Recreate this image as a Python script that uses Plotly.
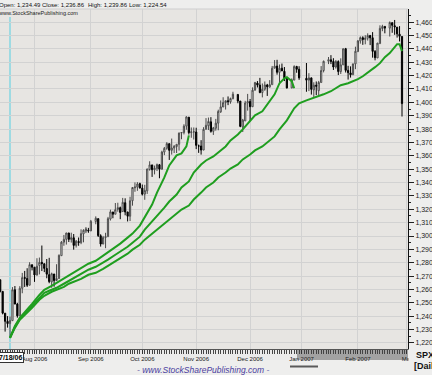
import plotly.graph_objects as go
import pandas as pd

# ---------------- data ----------------
dates = (
    ["2006-07-%02d" % d for d in [12, 13, 14, 17, 18, 19, 20, 21, 24, 25, 26, 27, 28, 31]]
    + ["2006-08-%02d" % d for d in [1, 2, 3, 4, 7, 8, 9, 10, 11, 14, 15, 16, 17, 18, 21, 22, 23, 24, 25, 28, 29, 30, 31]]
    + ["2006-09-%02d" % d for d in [1, 5, 6, 7, 8, 11, 12, 13, 14, 15, 18, 19, 20, 21, 22, 25, 26, 27, 28, 29]]
    + ["2006-10-%02d" % d for d in [2, 3, 4, 5, 6, 9, 10, 11, 12, 13, 16, 17, 18, 19, 20, 23, 24, 25, 26, 27, 30, 31]]
    + ["2006-11-%02d" % d for d in [1, 2, 3, 6, 7, 8, 9, 10, 13, 14, 15, 16, 17, 20, 21, 22, 24, 27, 28, 29, 30]]
    + ["2006-12-%02d" % d for d in [1, 4, 5, 6, 7, 8, 11, 12, 13, 14, 15, 18, 19, 20, 21, 22, 26, 27, 28, 29]]
    + ["2007-01-%02d" % d for d in [3, 4, 5, 8, 9, 10, 11, 12, 16, 17, 18, 19, 22, 23, 24, 25, 26, 29, 30, 31]]
    + ["2007-02-%02d" % d for d in [1, 2, 5, 6, 7, 8, 9, 12, 13, 14, 15, 16, 20, 21, 22, 23, 26, 27]]
)

opens = [
    1267.3, 1258.6, 1242.3, 1236.2, 1234.49, 1236.7, 1259.8, 1249.1, 1240.3, 1260.9, 1268.9, 1268.2, 1263.2, 1278.5,
    1276.7, 1270.7, 1278.0, 1280.3, 1279.3, 1275.7, 1271.1, 1265.7, 1271.6, 1266.7, 1268.2, 1285.3, 1295.4, 1297.5, 1302.3, 1297.5, 1298.7, 1293.0, 1295.9, 1295.1, 1301.6, 1303.7, 1304.3,
    1303.8, 1310.9, 1313.0, 1300.2, 1294.0, 1298.9, 1299.5, 1312.7, 1318.0, 1316.3, 1319.9, 1321.2, 1318.3, 1324.9, 1318.0, 1314.8, 1326.4, 1336.1, 1336.6, 1339.2,
    1335.8, 1331.3, 1333.8, 1349.8, 1353.2, 1349.6, 1350.6, 1353.3, 1349.9, 1362.8, 1365.6, 1369.1, 1364.1, 1365.9, 1366.9, 1368.6, 1377.0, 1377.4, 1382.2, 1388.9, 1377.3, 1377.9,
    1377.8, 1367.4, 1367.3, 1364.3, 1379.8, 1382.5, 1385.4, 1378.3, 1380.6, 1384.4, 1392.9, 1396.5, 1399.8, 1401.2, 1400.4, 1402.7, 1405.9, 1400.95, 1381.6, 1386.1, 1399.5,
    1400.6, 1396.7, 1409.1, 1414.4, 1412.9, 1407.3, 1409.8, 1413.0, 1411.3, 1413.2, 1425.5, 1427.1, 1422.4, 1425.5, 1423.2, 1418.1, 1410.8, 1416.6, 1426.8, 1424.7,
    1418.0, 1416.6, 1418.3, 1409.3, 1412.8, 1408.7, 1414.8, 1423.8, 1430.7, 1431.8, 1430.6, 1426.4, 1430.5, 1423.0, 1428.0, 1440.1, 1423.9, 1422.0, 1420.6, 1428.7,
    1437.9, 1445.9, 1448.3, 1447.0, 1448.0, 1450.0, 1448.3, 1438.0, 1433.2, 1443.9, 1455.2, 1456.8, 1455.5, 1459.6, 1457.3, 1456.2, 1451.0, 1449.25,
]
highs = [
    1267.3, 1258.6, 1242.3, 1240.1, 1239.86, 1261.8, 1262.6, 1250.0, 1262.5, 1272.4, 1273.9, 1275.9, 1280.4, 1278.7,
    1276.7, 1283.4, 1283.9, 1292.9, 1279.3, 1282.8, 1283.7, 1272.6, 1271.6, 1278.9, 1286.2, 1296.2, 1300.8, 1302.3, 1302.3, 1302.5, 1301.5, 1297.0, 1298.9, 1305.0, 1305.0, 1306.7, 1306.1,
    1312.0, 1314.7, 1313.0, 1301.3, 1300.1, 1302.4, 1314.3, 1319.7, 1318.0, 1324.7, 1324.9, 1322.0, 1328.5, 1328.2, 1318.0, 1329.4, 1336.6, 1340.1, 1340.3, 1339.9,
    1338.5, 1338.3, 1350.2, 1355.9, 1353.2, 1352.7, 1354.2, 1353.9, 1363.8, 1366.6, 1370.2, 1369.1, 1372.9, 1368.1, 1368.7, 1377.4, 1377.8, 1383.6, 1389.5, 1388.9, 1381.2, 1381.2,
    1381.0, 1368.4, 1371.7, 1381.4, 1388.2, 1388.6, 1388.9, 1381.6, 1387.6, 1394.5, 1401.4, 1403.8, 1401.2, 1404.4, 1403.5, 1407.9, 1405.9, 1400.95, 1387.6, 1401.1, 1406.3,
    1402.5, 1411.2, 1415.3, 1415.9, 1418.3, 1414.1, 1415.6, 1413.8, 1416.6, 1427.2, 1431.6, 1431.8, 1428.3, 1429.0, 1426.4, 1418.8, 1417.9, 1427.7, 1427.3, 1427.0,
    1429.4, 1421.8, 1418.3, 1415.0, 1415.6, 1416.0, 1427.1, 1431.2, 1433.9, 1435.3, 1433.0, 1431.6, 1431.4, 1432.9, 1440.1, 1440.7, 1427.3, 1426.9, 1428.8, 1441.6,
    1446.6, 1449.3, 1449.4, 1450.2, 1451.6, 1450.4, 1452.5, 1439.1, 1444.4, 1457.6, 1458.0, 1456.8, 1460.5, 1459.6, 1461.6, 1456.2, 1457.0, 1449.25,
]
lows = [
    1257.8, 1241.4, 1228.5, 1231.5, 1224.54, 1236.7, 1249.1, 1238.9, 1240.3, 1257.2, 1261.9, 1261.9, 1263.2, 1274.3,
    1265.7, 1270.7, 1271.3, 1273.8, 1273.0, 1268.4, 1264.7, 1261.3, 1262.1, 1266.7, 1268.2, 1285.3, 1292.7, 1293.6, 1295.5, 1295.1, 1289.8, 1291.4, 1292.7, 1293.9, 1295.3, 1302.2, 1302.4,
    1303.8, 1308.8, 1299.3, 1292.1, 1294.0, 1290.9, 1299.5, 1311.6, 1313.3, 1316.3, 1318.2, 1312.6, 1318.3, 1315.5, 1310.9, 1311.2, 1322.7, 1333.1, 1333.8, 1335.6,
    1330.3, 1327.1, 1331.5, 1348.9, 1344.2, 1346.1, 1348.6, 1343.2, 1349.9, 1360.5, 1364.5, 1356.9, 1360.9, 1362.1, 1362.1, 1363.9, 1372.4, 1376.0, 1379.5, 1375.9, 1373.5, 1372.2,
    1365.0, 1362.2, 1360.9, 1364.3, 1379.8, 1379.3, 1377.3, 1375.6, 1378.8, 1379.1, 1392.1, 1396.5, 1394.6, 1397.9, 1399.0, 1402.3, 1399.3, 1381.4, 1377.8, 1386.1, 1393.8,
    1385.9, 1396.7, 1408.8, 1411.1, 1406.8, 1403.7, 1408.6, 1404.8, 1411.3, 1413.2, 1425.5, 1420.7, 1414.9, 1423.5, 1415.9, 1410.3, 1410.5, 1416.6, 1422.1, 1416.8,
    1407.9, 1408.4, 1405.8, 1404.0, 1405.4, 1405.3, 1414.8, 1422.4, 1428.6, 1428.6, 1424.2, 1425.2, 1420.4, 1421.2, 1428.0, 1422.3, 1417.0, 1418.5, 1420.6, 1424.8,
    1437.9, 1443.9, 1443.0, 1443.4, 1446.2, 1442.8, 1433.4, 1431.4, 1433.2, 1443.9, 1453.2, 1451.6, 1449.2, 1452.0, 1450.5, 1448.4, 1445.5, 1389.4,
]
closes = [
    1258.6, 1242.3, 1236.2, 1234.5, 1236.86, 1259.8, 1249.1, 1240.3, 1260.9, 1268.9, 1268.4, 1263.2, 1278.6, 1276.7,
    1270.9, 1277.4, 1280.3, 1279.4, 1275.8, 1271.5, 1265.9, 1271.8, 1266.7, 1268.2, 1285.6, 1295.4, 1297.5, 1302.3, 1297.5, 1298.8, 1293.0, 1296.1, 1295.1, 1301.8, 1304.3, 1305.4, 1303.8,
    1311.0, 1313.3, 1300.3, 1294.0, 1298.9, 1299.5, 1313.0, 1318.1, 1316.3, 1319.7, 1321.2, 1317.6, 1325.2, 1318.0, 1314.8, 1326.4, 1336.3, 1336.6, 1338.9, 1335.9,
    1331.3, 1334.1, 1350.2, 1353.2, 1349.6, 1350.7, 1353.4, 1350.0, 1362.8, 1365.6, 1369.1, 1364.1, 1365.8, 1367.0, 1368.6, 1377.0, 1377.4, 1382.2, 1389.1, 1377.3, 1377.9, 1377.9,
    1367.8, 1367.3, 1364.3, 1379.8, 1382.8, 1385.7, 1378.3, 1380.9, 1384.4, 1393.2, 1396.6, 1399.8, 1401.2, 1400.5, 1402.8, 1406.1, 1401.0, 1382.0, 1386.7, 1399.5, 1400.6,
    1396.7, 1409.1, 1414.8, 1412.9, 1407.3, 1409.8, 1413.0, 1411.6, 1413.2, 1425.5, 1427.1, 1422.5, 1425.5, 1423.5, 1418.3, 1410.8, 1416.9, 1426.8, 1424.7, 1418.3,
    1416.6, 1418.3, 1409.7, 1412.8, 1412.1, 1414.85, 1423.8, 1430.7, 1431.9, 1430.6, 1426.4, 1430.5, 1423.0, 1428.0, 1440.1, 1423.9, 1422.2, 1420.6, 1428.8, 1438.2,
    1445.9, 1448.4, 1447.0, 1448.0, 1450.0, 1448.3, 1438.1, 1433.4, 1444.3, 1455.3, 1456.8, 1455.5, 1459.7, 1457.6, 1456.4, 1451.2, 1449.4, 1399.04,
]

# three green average lines
line_a_dates = ["2006-07-18", "2006-07-20", "2006-07-24", "2006-07-27", "2006-07-31", "2006-08-03", "2006-08-07",
                "2006-08-10", "2006-08-14", "2006-08-17", "2006-08-21", "2006-08-24", "2006-08-28", "2006-08-31",
                "2006-09-05", "2006-09-08", "2006-09-12", "2006-09-15", "2006-09-19", "2006-09-22", "2006-09-26",
                "2006-09-29", "2006-10-03", "2006-10-06", "2006-10-10", "2006-10-13", "2006-10-17", "2006-10-20",
                "2006-10-24", "2006-10-26", "2006-10-27"]
line_a_vals = [1223.8, 1232.8, 1238.8, 1244.8, 1249.3, 1256.0, 1259.8, 1262.8, 1265.0, 1268.0, 1270.3, 1273.3,
               1275.5, 1279.3, 1281.5, 1285.3, 1288.3, 1292.0, 1294.3, 1298.8, 1301.8, 1307.8, 1314.5, 1323.5,
               1332.5, 1343.8, 1352.8, 1360.3, 1361.8, 1367.0, 1375.3]

line_b_dates = ["2006-07-18", "2006-07-20", "2006-07-24", "2006-07-27", "2006-07-31", "2006-08-03", "2006-08-07",
                "2006-08-10", "2006-08-14", "2006-08-17", "2006-08-21", "2006-08-24", "2006-08-28", "2006-08-31",
                "2006-09-05", "2006-09-08", "2006-09-12", "2006-09-15", "2006-09-19", "2006-09-22", "2006-09-26",
                "2006-09-29", "2006-10-03", "2006-10-06", "2006-10-10", "2006-10-13", "2006-10-17", "2006-10-20",
                "2006-10-24", "2006-10-27", "2006-10-31", "2006-11-03", "2006-11-07", "2006-11-10", "2006-11-14",
                "2006-11-17", "2006-11-21", "2006-11-24", "2006-11-28", "2006-12-01", "2006-12-05", "2006-12-08",
                "2006-12-12", "2006-12-15", "2006-12-19", "2006-12-21", "2006-12-22", "2006-12-26", "2006-12-27"]
line_b_vals = [1223.8, 1232.0, 1238.0, 1243.3, 1247.8, 1253.8, 1257.5, 1259.8, 1261.3, 1264.3, 1266.5, 1269.5,
               1271.8, 1274.8, 1277.0, 1280.0, 1282.3, 1286.0, 1288.3, 1292.0, 1295.0, 1299.5, 1304.8, 1310.8,
               1315.3, 1321.3, 1325.8, 1331.0, 1336.3, 1340.8, 1347.5, 1353.5, 1356.5, 1359.5, 1362.5, 1367.0,
               1371.5, 1376.0, 1379.8, 1385.8, 1390.3, 1393.3, 1398.5, 1406.0, 1414.3, 1418.0, 1418.8, 1415.8,
               1410.5]

line_c_dates = ["2006-07-18", "2006-07-20", "2006-07-24", "2006-07-27", "2006-07-31", "2006-08-03", "2006-08-07",
                "2006-08-10", "2006-08-14", "2006-08-17", "2006-08-21", "2006-08-24", "2006-08-28", "2006-08-31",
                "2006-09-05", "2006-09-08", "2006-09-12", "2006-09-15", "2006-09-19", "2006-09-22", "2006-09-26",
                "2006-09-29", "2006-10-03", "2006-10-06", "2006-10-10", "2006-10-13", "2006-10-17", "2006-10-20",
                "2006-10-24", "2006-10-27", "2006-10-31", "2006-11-03", "2006-11-07", "2006-11-10", "2006-11-14",
                "2006-11-17", "2006-11-21", "2006-11-24", "2006-11-28", "2006-12-01", "2006-12-05", "2006-12-08",
                "2006-12-12", "2006-12-15", "2006-12-19", "2006-12-22", "2006-12-27", "2006-12-29", "2007-01-03",
                "2007-01-09", "2007-01-12", "2007-01-17", "2007-01-19", "2007-01-23", "2007-01-26", "2007-01-30",
                "2007-02-01", "2007-02-05", "2007-02-08", "2007-02-12", "2007-02-14", "2007-02-16", "2007-02-20",
                "2007-02-22", "2007-02-23", "2007-02-26", "2007-02-27"]
line_c_vals = [1223.8, 1231.3, 1237.3, 1242.5, 1246.3, 1252.3, 1255.3, 1258.3, 1259.8, 1262.0, 1264.3, 1266.5,
               1268.0, 1271.0, 1272.5, 1275.5, 1277.8, 1280.8, 1283.0, 1286.8, 1289.8, 1293.5, 1297.3, 1301.8,
               1304.8, 1309.3, 1312.3, 1316.8, 1319.8, 1322.8, 1327.3, 1332.5, 1336.3, 1340.0, 1343.8, 1347.5,
               1350.5, 1353.5, 1357.3, 1361.0, 1364.0, 1367.0, 1370.0, 1374.5, 1379.8, 1386.5, 1395.5, 1399.3,
               1401.5, 1403.8, 1406.0, 1408.3, 1410.5, 1412.8, 1414.3, 1415.8, 1417.3, 1419.5, 1423.3, 1426.3,
               1429.3, 1433.8, 1436.8, 1441.3, 1443.5, 1443.5, 1438.3]

month_ticks = ["2006-08-01", "2006-09-01", "2006-10-02", "2006-11-01", "2006-12-01", "2007-01-01", "2007-02-01", "2007-03-01"]
month_labels = ["Aug 2006", "Sep 2006", "Oct 2006", "Nov 2006", "Dec 2006", "Jan 2007", "Feb 2007", "Mar"]
price_ticks = list(range(1220, 1461, 10))
price_labels = ["{:,.2f}".format(v) for v in price_ticks]

header = [("Open: 1,234.49", -3), ("Close: 1,236.86", 40), ("High: 1,239.86", 86), ("Low: 1,224.54", 127)]

# ---------------- figure ----------------
W, H = 432, 375
ML, MR, MT, MB = 0, 24, 9, 26
PW, PH = W - ML - MR, H - MT - MB


def px_x(p):
    return (p - ML) / PW


def px_y(p):
    return (H - MB - p) / PH


fig = go.Figure()
fig.add_trace(go.Candlestick(
    x=dates, open=opens, high=highs, low=lows, close=closes,
    increasing=dict(fillcolor="#ffffff", line=dict(color="#4a4a4a", width=1)),
    decreasing=dict(fillcolor="#000000", line=dict(color="#000000", width=1)),
    whiskerwidth=0, showlegend=False, hoverinfo="skip",
))
GREEN = "#1f9e1f"
for xs, ys in [(line_c_dates, line_c_vals), (line_b_dates, line_b_vals), (line_a_dates, line_a_vals)]:
    fig.add_trace(go.Scatter(x=xs, y=ys, mode="lines", line=dict(color=GREEN, width=2),
                             showlegend=False, hoverinfo="skip"))

ruler = [d.strftime("%Y-%m-%d") for d in pd.bdate_range("2006-07-12", "2007-03-01")]

fig.update_layout(
    width=W, height=H, margin=dict(l=ML, r=MR, t=MT, b=MB, pad=0, autoexpand=False),
    paper_bgcolor="#eeeeed", plot_bgcolor="#e7e5e2",
    font=dict(family="Arial, Liberation Sans, sans-serif", color="#222"),
    xaxis=dict(
        type="date", rangebreaks=[dict(bounds=["sat", "mon"])],
        range=["2006-07-11 22:00", "2007-03-01 10:48"],
        rangeslider=dict(visible=False), automargin=False,
        tickmode="array", tickvals=month_ticks, ticktext=month_labels,
        showgrid=True, gridcolor="#d2d2d2", gridwidth=1,
        ticks="outside", ticklen=4, tickcolor="#333", tickwidth=1,
        minor=dict(tickmode="array", tickvals=ruler, ticks="outside", ticklen=4, tickcolor="#444", showgrid=False),
        tickfont=dict(size=6, color="#222"),
        showline=True, linecolor="#555", linewidth=1, fixedrange=True,
    ),
    yaxis=dict(
        side="right", range=[1215.5, 1469.8], automargin=False,
        tickmode="array", tickvals=price_ticks, ticktext=price_labels,
        showgrid=True, gridcolor="#d2d2d2", gridwidth=1,
        ticks="outside", ticklen=5, tickcolor="#222", tickwidth=1,
        minor=dict(dtick=5, ticks="outside", ticklen=2, tickcolor="#222", showgrid=False),
        tickfont=dict(size=7, color="#222"),
        showline=True, linecolor="#111", linewidth=1, zeroline=False, fixedrange=True,
    ),
)

shapes = [
    dict(type="rect", xref="paper", yref="paper", x0=0, x1=1, y0=px_y(360), y1=0,
         fillcolor="#e9e9e9", line=dict(width=0), layer="below"),
    dict(type="rect", xref="paper", yref="paper", x0=px_x(297), x1=1, y0=px_y(360), y1=0,
         fillcolor="#a2a2a2", line=dict(width=0), layer="below"),
    dict(type="rect", xref="paper", yref="paper", x0=1 + 0.5 / PW, x1=px_x(W + 2), y0=px_y(H + 2), y1=-0.5 / PH,
         fillcolor="#eeeeed", line=dict(width=0), layer="above"),
    dict(type="line", xref="x", yref="paper", x0="2006-07-18", x1="2006-07-18", y0=0, y1=px_y(17),
         line=dict(color="#86d6e2", width=1.5), layer="below"),
    dict(type="line", xref="paper", yref="paper", x0=0, x1=1, y0=1, y1=1,
         line=dict(color="#cfcfcf", width=1)),
    dict(type="line", xref="paper", yref="paper", x0=px_x(290), x1=px_x(318), y0=px_y(366.5), y1=px_y(366.5),
         line=dict(color="#5a5a5a", width=2)),
]
fig.update_layout(shapes=shapes)

ann = []
for txt, xp in header:
    ann.append(dict(text=txt, xref="paper", yref="paper", x=px_x(xp), y=px_y(4.5), xanchor="left", yanchor="middle",
                    showarrow=False, font=dict(size=6, color="#111")))
ann.append(dict(text="www.StockSharePublishing.com", xref="paper", yref="paper", x=px_x(-4), y=px_y(13.5),
                xanchor="left", yanchor="middle", showarrow=False, font=dict(size=5.5, color="#222")))
ann.append(dict(text="<b>7/18/06</b>", xref="paper", yref="paper", x=px_x(-3), y=px_y(357), xanchor="left",
                yanchor="middle", showarrow=False, font=dict(size=7, color="#000"), bgcolor="#ffffff",
                bordercolor="#333", borderwidth=1, borderpad=1))
ann.append(dict(text="<i>- www.StockSharePublishing.com -</i>", xref="paper", yref="paper", x=px_x(203),
                y=px_y(370), xanchor="center", yanchor="middle", showarrow=False,
                font=dict(size=8.5, color="#4b3d9e")))
ann.append(dict(text="<b>SPX</b>", xref="paper", yref="paper", x=px_x(414), y=px_y(355), xanchor="left",
                yanchor="middle", showarrow=False, font=dict(size=9, color="#111")))
ann.append(dict(text="<b>[Daily]</b>", xref="paper", yref="paper", x=px_x(412), y=px_y(366), xanchor="left",
                yanchor="middle", showarrow=False, font=dict(size=9, color="#111")))
fig.update_layout(annotations=ann)

fig.write_html("out.html")
